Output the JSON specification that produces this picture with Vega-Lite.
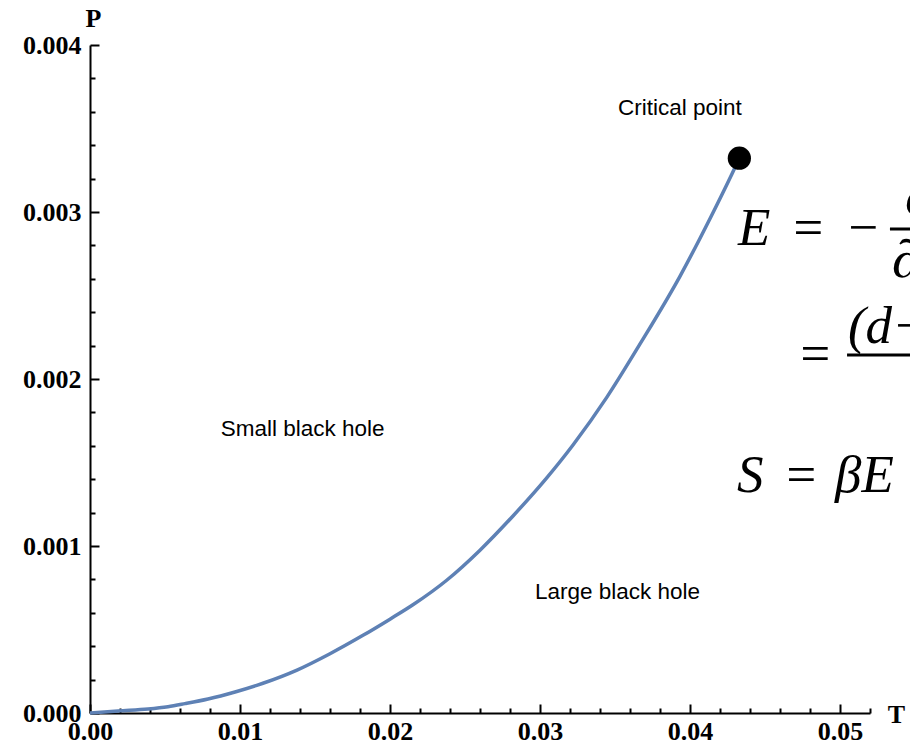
{
  "$schema": "https://vega.github.io/schema/vega-lite/v6.json",
  "autosize": {"type": "none"},
  "width": 780,
  "height": 668,
  "padding": {"left": 90, "top": 45, "right": 40, "bottom": 34},
  "background": "white",
  "config": {"view": {"stroke": null}},
  "datasets": {
    "coexistence": [
      {"T": 0.0, "P": 0.0},
      {"T": 0.00187, "P": 0.0000125},
      {"T": 0.00387, "P": 0.000024},
      {"T": 0.0052, "P": 0.0000377},
      {"T": 0.00633, "P": 0.000056},
      {"T": 0.00787, "P": 0.0000838},
      {"T": 0.00967, "P": 0.000126},
      {"T": 0.01153, "P": 0.000178},
      {"T": 0.0138, "P": 0.000257},
      {"T": 0.016, "P": 0.000355},
      {"T": 0.0182, "P": 0.000465},
      {"T": 0.02, "P": 0.000562},
      {"T": 0.02153, "P": 0.000648},
      {"T": 0.02378, "P": 0.000795},
      {"T": 0.026, "P": 0.000975},
      {"T": 0.0282, "P": 0.001180},
      {"T": 0.03045, "P": 0.001408},
      {"T": 0.0322, "P": 0.001605},
      {"T": 0.03445, "P": 0.001890},
      {"T": 0.03667, "P": 0.002210},
      {"T": 0.03933, "P": 0.002615},
      {"T": 0.04133, "P": 0.002960},
      {"T": 0.04278, "P": 0.003225},
      {"T": 0.04329, "P": 0.003322}
    ],
    "critical": [{"T": 0.04329, "P": 0.003322}],
    "regions": [
      {"T": 0.03933, "P": 0.003623, "label": "Critical point"},
      {"T": 0.01417, "P": 0.0017, "label": "Small black hole"},
      {"T": 0.03517, "P": 0.000725, "label": "Large black hole"}
    ],
    "equations": [
      {"T": 0.0432, "P": 0.002802, "label": "E"},
      {"T": 0.04667, "P": 0.002802, "label": "="},
      {"T": 0.05033, "P": 0.002802, "label": "−"},
      {"T": 0.05347, "P": 0.002611, "label": "∂"},
      {"T": 0.05433, "P": 0.002988, "label": "∂"},
      {"T": 0.04713, "P": 0.002048, "label": "="},
      {"T": 0.05053, "P": 0.002216, "label": "(d−"},
      {"T": 0.04313, "P": 0.001323, "label": "S"},
      {"T": 0.04620, "P": 0.001323, "label": "="},
      {"T": 0.04967, "P": 0.001323, "label": "βE"}
    ],
    "bars": [
      {"T": 0.05333, "T2": 0.062, "P": 0.002898},
      {"T": 0.05047, "T2": 0.062, "P": 0.002144}
    ]
  },
  "layer": [
    {
      "data": {"name": "coexistence"},
      "mark": {"type": "line", "color": "#5e81b5", "strokeWidth": 3.5, "interpolate": "monotone"},
      "encoding": {
        "x": {
          "field": "T", "type": "quantitative",
          "scale": {"domain": [0, 0.052], "nice": false, "zero": false},
          "axis": {
            "title": "T",
            "titleFont": "Liberation Serif", "titleFontSize": 26, "titleFontWeight": "bold", "titleColor": "black",
            "titleAngle": 0, "titleAlign": "center", "titleBaseline": "alphabetic",
            "titleX": 806, "titleY": 9,
            "tickCount": 100,
            "values": [0, 0.002, 0.004, 0.006, 0.008, 0.01, 0.012, 0.014, 0.016, 0.018, 0.02, 0.022, 0.024, 0.026, 0.028, 0.03, 0.032, 0.034, 0.036, 0.038, 0.04, 0.042, 0.044, 0.046, 0.048, 0.05, 0.052],
            "labelExpr": "abs(datum.value*100 - round(datum.value*100)) < 1e-6 ? format(datum.value, '.2f') : ''",
            "labelFont": "Liberation Serif", "labelFontSize": 26, "labelFontWeight": "bold", "labelColor": "black",
            "labelPadding": 14, "labelOverlap": false, "labelFlush": false, "labelBound": false,
            "domainColor": "black", "domainWidth": 2,
            "tickColor": "black", "tickWidth": 2,
            "tickSize": {"condition": {"test": "abs(datum.value*100 - round(datum.value*100)) < 1e-6", "value": -9}, "value": -5},
            "grid": false
          }
        },
        "y": {
          "field": "P", "type": "quantitative",
          "scale": {"domain": [0, 0.004], "nice": false, "zero": false},
          "axis": {
            "title": "P",
            "titleFont": "Liberation Serif", "titleFontSize": 26, "titleFontWeight": "bold", "titleColor": "black",
            "titleAngle": 0, "titleAlign": "center", "titleBaseline": "alphabetic",
            "titleX": 3, "titleY": -19,
            "tickCount": 100,
            "values": [0, 0.0002, 0.0004, 0.0006, 0.0008, 0.001, 0.0012, 0.0014, 0.0016, 0.0018, 0.002, 0.0022, 0.0024, 0.0026, 0.0028, 0.003, 0.0032, 0.0034, 0.0036, 0.0038, 0.004],
            "labelExpr": "abs(datum.value*1000 - round(datum.value*1000)) < 1e-6 ? format(datum.value, '.3f') : ''",
            "labelFont": "Liberation Serif", "labelFontSize": 26, "labelFontWeight": "bold", "labelColor": "black",
            "labelPadding": 18, "labelOverlap": false, "labelFlush": false, "labelBound": false,
            "domainColor": "black", "domainWidth": 2,
            "tickColor": "black", "tickWidth": 2,
            "tickSize": {"condition": {"test": "abs(datum.value*1000 - round(datum.value*1000)) < 1e-6", "value": -9}, "value": -5},
            "grid": false
          }
        }
      }
    },
    {
      "data": {"name": "critical"},
      "mark": {"type": "point", "filled": true, "color": "black", "opacity": 1, "size": 540},
      "encoding": {
        "x": {"field": "T", "type": "quantitative"},
        "y": {"field": "P", "type": "quantitative"}
      }
    },
    {
      "data": {"name": "regions"},
      "mark": {"type": "text", "font": "Liberation Sans", "fontSize": 22.5, "color": "black", "align": "center", "baseline": "middle"},
      "encoding": {
        "x": {"field": "T", "type": "quantitative"},
        "y": {"field": "P", "type": "quantitative"},
        "text": {"field": "label"}
      }
    },
    {
      "data": {"name": "equations"},
      "mark": {"type": "text", "font": "Liberation Serif", "fontStyle": "italic", "fontSize": 53, "color": "black", "align": "left", "baseline": "alphabetic"},
      "encoding": {
        "x": {"field": "T", "type": "quantitative"},
        "y": {"field": "P", "type": "quantitative"},
        "text": {"field": "label"}
      }
    },
    {
      "data": {"name": "bars"},
      "mark": {"type": "rule", "color": "black", "strokeWidth": 3},
      "encoding": {
        "x": {"field": "T", "type": "quantitative"},
        "x2": {"field": "T2"},
        "y": {"field": "P", "type": "quantitative"}
      }
    }
  ]
}
